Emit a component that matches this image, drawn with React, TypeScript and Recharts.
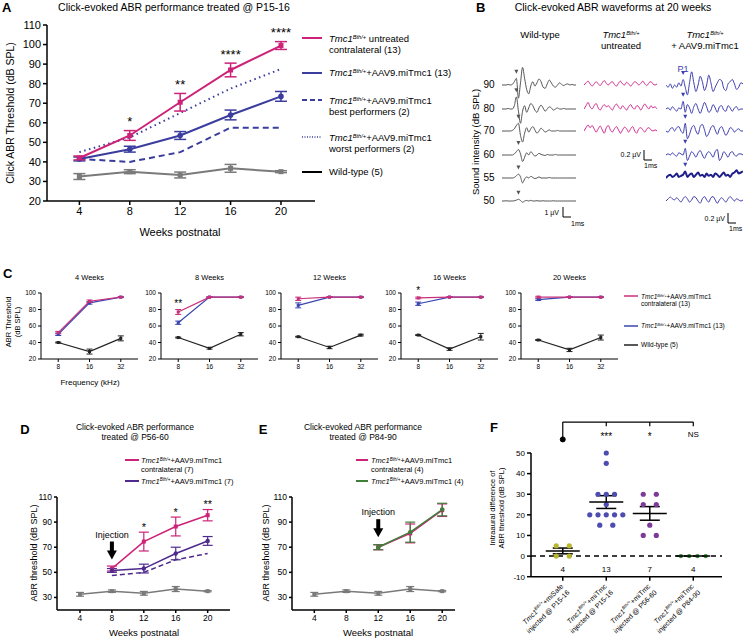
import React from 'react';
import { LineChart, Line, XAxis, YAxis, ErrorBar, ReferenceDot, ReferenceLine, ScatterChart, Scatter } from 'recharts';

const FONT = '"Liberation Sans", Arial, Helvetica, sans-serif';
const MAG = '#cc2277';
const BLUE = '#3b3d9e';
const GRAY = '#7a7a7a';
const PURPLE = '#4e2a8c';
const GREEN = '#3f7f3a';

// ---------- Panel A ----------
const weeksA = [4, 8, 12, 16, 20];
const yTicksA = [20, 30, 40, 50, 60, 70, 80, 90, 100, 110];
const untreatedA = [42, 53.5, 70.5, 87, 99.5];
const untreatedErrA = [1, 2.5, 4.5, 3.5, 2];
const treatedA = [41.5, 46.5, 53.5, 64, 73.5];
const treatedErrA = [1, 1.5, 2, 2.5, 2.5];
const bestA = [41.5, 40, 45, 57.5, 57.5];
const worstA = [45, 52.5, 65, 77.5, 87.5];
const wildTypeA = [32.5, 35, 33.3, 36.7, 35];
const wildTypeErrA = [1.5, 1, 1.5, 2, 0.5];
const starsA = ['', '*', '**', '****', '****'];

// ---------- Panel B ----------
const levelsB = ['90', '80', '70', '60', '55', '50'];
const wt90 = [0, 0, 0, 0.05, 0, 0.05, 0.3, 0.6, -1.2, 0.2, 1.6, 0.6, -0.4, -0.8, -0.1, 0.3, -0.1, 0.2, 0.55, 0.3, -0.2, -0.3, 0.1, 0.45, 0.2, -0.1, -0.2, 0, 0.2, 0.05, -0.05, 0.05, 0.1, 0, 0.05, 0, 0];
const wt80 = [0, 0, 0, 0.05, 0, 0, 0.3, 1.1, -0.2, -1.3, -0.2, 0.3, -0.3, 0.1, 0.5, 0.3, -0.1, -0.3, 0.1, 0.35, 0.1, -0.2, 0, 0.2, 0.1, -0.1, 0, 0.1, 0, 0, 0.05, 0, 0, 0, 0, 0, 0];
const wt70 = [0, 0, 0, 0, 0, 0.05, 0.2, 0.5, 0.7, -0.4, -1.0, -0.2, 0.3, -0.1, 0.2, 0.4, 0.1, -0.2, 0, 0.25, 0.1, -0.1, 0, 0.1, 0, 0, 0, 0.05, 0, 0, 0, 0, 0, 0, 0, 0, 0];
const wt60 = [0, 0, 0, 0, 0, 0, 0.1, 0.3, 0.5, 0.1, -0.6, -0.2, 0.2, 0, 0.3, 0.1, -0.1, 0, 0.15, 0.05, 0, -0.05, 0.05, 0, 0, 0, 0.05, 0, 0, 0, 0, 0, 0, 0, 0, 0, 0];
const wt55 = [0, 0, 0, 0, 0, 0, 0.05, 0.2, 0.35, 0.1, -0.45, -0.1, 0.1, 0, 0.15, 0.05, -0.05, 0, 0.1, 0, 0, 0, 0, 0.05, 0, 0, 0, 0, 0, 0, 0, 0, 0, 0, 0, 0, 0];
const wt50 = [0, 0, 0.02, 0, 0, 0, 0.02, 0.08, 0.15, 0.05, -0.12, 0, 0.05, 0, 0.06, 0, 0, 0.03, 0, 0, 0.02, 0, 0, 0, 0, 0.02, 0, 0, 0, 0, 0, 0, 0, 0, 0, 0, 0];
const wtPeaks = [7, 7, 8, 8, 8, 8];
const un90 = [0, 0.2, 0.35, 0.1, -0.1, 0.1, 0.3, 0.1, -0.05, 0.2, 0.4, 0.15, 0, 0.2, 0.3, 0.05, -0.1, 0.15, 0.35, 0.1, 0, 0.25, 0.1, -0.1, 0.1, 0.3, 0.2, 0, 0.15, 0.35, 0.1, -0.05, 0.2, 0.3, 0.1, 0, 0.1];
const un80 = [0, 0.3, 0.6, 0.2, 0, 0.3, 0.5, 0.1, -0.1, 0.2, 0.4, 0.2, 0.3, 0.1, -0.1, 0.25, 0.45, 0.2, 0, 0.3, 0.1, -0.1, 0.2, 0.4, 0.1, 0, 0.3, 0.2, -0.1, 0.2, 0.45, 0.2, 0, 0.3, 0.1, 0.2, 0];
const un70 = [0, 0.3, 0.55, 0.3, 0.5, 0.2, -0.1, 0.2, 0.45, 0.1, -0.2, 0.3, 0.5, 0.1, -0.1, 0.2, 0.4, 0.1, -0.2, 0.1, 0.35, 0.2, -0.1, 0.2, 0.4, 0, -0.2, 0.2, 0.3, 0.1, -0.1, 0.2, 0.3, 0.1, 0, 0.1, 0];
const tr90 = [0, -0.2, 0.1, -0.3, 0, -0.2, 0.2, -0.1, 0.5, -0.2, -0.9, 0.2, 1.2, 0.2, -0.6, 0, 0.8, 0.3, -0.5, 0, 0.9, 0.2, -0.6, -0.2, 0.2, 0.5, 0.4, -0.3, -0.5, 0.1, 0.3, 0.5, 0.1, -0.4, -0.2, 0.2, 0.1];
const tr80 = [0, 0.1, -0.1, 0.2, 0, -0.2, 0.1, 0, 0.7, -0.3, 0.4, 0.1, -0.4, 0.2, 0.5, 0, -0.4, 0.1, 0.6, 0.2, -0.3, -0.1, 0.4, 0.1, -0.3, 0.2, 0.3, -0.1, -0.2, 0.3, 0.1, -0.2, 0.1, 0.2, -0.1, 0, 0];
const tr70 = [0, -0.1, 0.2, 0.3, 0, 0.3, 0.4, 0, -0.2, 0.7, -0.7, -0.3, 0.3, 0.5, 0, -0.3, 0.4, 0.6, 0.1, -0.5, -0.2, 0.3, 0.5, 0.1, -0.3, 0.2, 0.4, 0, -0.4, -0.1, 0.3, 0.2, -0.1, 0.1, 0.2, 0, 0];
const tr60 = [0, 0.1, 0, 0.2, 0, -0.1, 0.2, 0.1, 0, 0.6, -0.5, -0.1, 0.3, 0.1, -0.2, 0.2, 0.4, 0, -0.3, 0.1, 0.3, 0.1, -0.2, 0.3, 0.5, -0.5, -0.2, 0.3, 0.1, -0.2, 0.2, 0.3, 0, -0.1, 0.1, 0.1, 0];
const tr55 = [0, 0.2, 0.3, 0.1, 0.2, 0.4, 0.1, 0.2, 0.3, 0.6, 0.1, 0.3, 0.4, 0.1, 0.3, 0.5, 0.2, 0.3, 0.1, 0.4, 0.2, 0.3, 0.1, 0.4, 0.3, 0.1, 0.3, 0.5, 0.2, 0.3, 0.1, 0.4, 0.5, 0.7, 0.4, 0.5, 0.6];
const tr50 = [0, 0.2, 0.35, 0.2, 0.1, 0.3, 0.1, -0.1, 0.2, 0.4, 0.2, -0.1, 0.1, 0.4, 0.3, 0, -0.2, 0.2, 0.4, 0.1, -0.1, 0.3, 0.4, 0.1, -0.2, 0.1, 0.3, 0.1, -0.1, 0.2, 0.4, 0.2, 0, 0.2, 0.1, 0, 0.1];
const trPeaks = [8, 8, 9, 9, 9, -1];

// ---------- Panel C ----------
const freqC = ['8', '16', '32'];
const weekTitlesC = ['4 Weeks', '8 Weeks', '12 Weeks', '16 Weeks', '20 Weeks'];
const contraC = [[52, 90, 95], [77, 95, 95], [93, 95, 95], [94, 95, 95], [95, 95, 95]];
const contraErrC = [[1.5, 1.5, 0.5], [3, 0.5, 0.5], [2, 0.5, 0.5], [1, 0.5, 0.5], [1, 0.5, 0.5]];
const treatedC = [[50, 88, 95], [64, 95, 95], [85, 95, 95], [87, 95, 95], [92, 95, 95]];
const treatedErrC = [[1.5, 1.5, 0.5], [2, 0.5, 0.5], [3, 0.5, 0.5], [2, 0.5, 0.5], [1, 0.5, 0.5]];
const wildC = [[40, 29, 45], [46, 33, 50], [47, 34, 49], [49, 32, 47], [43, 31, 46]];
const wildErrC = [[0.5, 3, 3], [0.5, 1, 2], [0.5, 1.5, 1], [0.5, 1.5, 4], [0.5, 2, 3]];
const starsC = ['', '**', '', '*', ''];

// ---------- Panel D ----------
const weeksD = [4, 8, 12, 16, 20];
const contraD = [null, 53, 74.5, 86.5, 95.5];
const contraErrD = [0, 2, 7.5, 7.5, 4.5];
const treatedD = [null, 51.5, 53, 65, 75];
const treatedErrD = [0, 1.5, 3.5, 5, 3.5];
const dashedD = [null, 47.5, 50, 60, 65];
const starsD = ['', '', '*', '*', '**'];

// ---------- Panel E ----------
const contraE = [null, null, 70, 81, 99.5];
const contraErrE = [0, 0, 2, 7.5, 5];
const treatedE = [null, null, 70, 82, 100];
const treatedErrE = [0, 0, 2, 8, 5];

// ---------- Panel F ----------
const groupNamesF = ['+miSafe', '+miTmc', '+miTmc', '+miTmc'];
const groupInjF = ['injected @ P15-16', 'injected @ P15-16', 'injected @ P56-60', 'injected @ P84-90'];
const countsF = [4, 13, 7, 4];
const meansF = [2.5, 26.2, 20.7, 0];
const semsF = [1.4, 3.1, 3.3, 0];
const diffMiSafe = [5, 5, 0, 0];
const diffP15 = [50, 45, 30, 30, 30, 25, 20, 20, 20, 20, 20, 15, 15];
const diffP56 = [30, 30, 25, 25, 15, 10, 10];
const diffP84 = [0, 0, 0, 0];
const sigF = ['***', '*', 'NS'];
const colorsF = ['#b8b830', '#4d4db0', '#7d3b98', '#3b8a3b'];

// ---------- helpers ----------
const ax = { stroke: '#000', strokeWidth: 1.5 };

const T = ({ x, y, children, size = 10, anchor = 'middle', bold = false, rotate = 0, color = '#000', lh = 1.2, align = 'center' }: any) => {
  const tx = anchor === 'middle' ? '-50%' : anchor === 'end' ? '-100%' : '0%';
  return (
    <div style={{ position: 'absolute', left: x, top: y, transform: `translate(${tx}, -50%) rotate(${rotate}deg)`, fontSize: size, fontWeight: bold ? 700 : 400, color, whiteSpace: 'nowrap', lineHeight: lh, textAlign: align as any }}>
      {children}
    </div>
  );
};

const Tmc = () => (
  <>
    <i>Tmc1</i>
    <span style={{ fontSize: '0.6em', fontStyle: 'italic', verticalAlign: '0.5em', lineHeight: 0 }}>Bth/+</span>
  </>
);

const LegLine = ({ x, y, w, color, dash, width = 1.5 }: any) => (
  <svg style={{ position: 'absolute', left: x, top: y - 3 }} width={w} height={6}>
    <line x1={0} x2={w} y1={3} y2={3} stroke={color} strokeWidth={width} strokeDasharray={dash} />
  </svg>
);

const sq = (color: string, s = 5) => (p: any) =>
  p.cx == null || p.cy == null ? <g key={p.index} /> : <rect key={p.index} x={p.cx - s / 2} y={p.cy - s / 2} width={s} height={s} fill={color} />;
const ci = (color: string, r = 2.6) => (p: any) =>
  p.cx == null || p.cy == null ? <g key={p.index} /> : <circle key={p.index} cx={p.cx} cy={p.cy} r={r} fill={color} />;
const txt = (s: string, size: number, dy = 0) => (p: any) => (
  <text x={p.cx} y={p.cy + dy} textAnchor="middle" dominantBaseline="central" fontSize={size} fill="#000">{s}</text>
);
const tri = (color: string) => (p: any) => (
  <polygon points={`${p.cx - 2},${p.cy - 2.5} ${p.cx + 2},${p.cy - 2.5} ${p.cx},${p.cy + 1.5}`} fill={color} />
);
const arrowShape = (p: any) => (
  <g>
    <text x={p.cx} y={p.cy - 25} textAnchor="middle" dominantBaseline="central" fontSize={9} fill="#000">Injection</text>
    <rect x={p.cx - 2} y={p.cy - 18} width={4} height={10} fill="#000" />
    <polygon points={`${p.cx - 5},${p.cy - 9} ${p.cx + 5},${p.cy - 9} ${p.cx},${p.cy}`} fill="#000" />
  </g>
);

// ---------- Panel A chart ----------
const dataA = weeksA.map((w, i) => ({
  w, u: untreatedA[i], ue: untreatedErrA[i], t: treatedA[i], te: treatedErrA[i],
  b: bestA[i], wo: worstA[i], wt: wildTypeA[i], wte: wildTypeErrA[i],
}));

const PanelA = () => (
  <div style={{ position: 'absolute', left: 0, top: 0 }}>
    <LineChart width={325} height={236} data={dataA} margin={{ top: 25, right: 10, bottom: 0, left: 0 }}>
      <XAxis type="number" dataKey="w" domain={[1.43, 22.7]} ticks={weeksA} allowDataOverflow tick={{ fill: '#000', fontSize: 11 }} tickSize={4} axisLine={ax} tickLine={ax} height={35} />
      <YAxis type="number" domain={[20, 110]} ticks={yTicksA} allowDataOverflow tick={{ fill: '#000', fontSize: 11 }} tickSize={4} axisLine={ax} tickLine={ax} width={47} />
      <Line dataKey="wt" stroke={GRAY} strokeWidth={2} dot={sq(GRAY, 5)} isAnimationActive={false}>
        <ErrorBar dataKey="wte" width={6} stroke={GRAY} strokeWidth={1.5} />
      </Line>
      <Line dataKey="b" stroke={BLUE} strokeWidth={2} strokeDasharray="6 4" dot={false} isAnimationActive={false} />
      <Line dataKey="wo" stroke={BLUE} strokeWidth={2} strokeDasharray="1.5 3.5" dot={false} isAnimationActive={false} />
      <Line dataKey="t" stroke={BLUE} strokeWidth={2} dot={ci(BLUE, 2.8)} isAnimationActive={false}>
        <ErrorBar dataKey="te" width={6} stroke={BLUE} strokeWidth={1.5} />
      </Line>
      <Line dataKey="u" stroke={MAG} strokeWidth={2} dot={sq(MAG, 5)} isAnimationActive={false}>
        <ErrorBar dataKey="ue" width={6} stroke={MAG} strokeWidth={1.5} />
      </Line>
      {weeksA.map((w, i) => starsA[i] ? (
        <ReferenceDot key={'s' + i} x={w} y={untreatedA[i] + untreatedErrA[i] + 6} r={0} ifOverflow="visible" shape={txt(starsA[i], 13, 3)} />
      ) : null)}
    </LineChart>
  </div>
);

// ---------- Panel B wave ----------
const Wave = ({ data, left, top, width, color, sw = 1, peak = -1, markColor }: any) => {
  const rows = data.map((v: number, i: number) => ({ i, v }));
  return (
    <div style={{ position: 'absolute', left, top }}>
      <LineChart width={width} height={44} data={rows} margin={{ top: 0, right: 0, bottom: 0, left: 0 }}>
        <XAxis type="number" dataKey="i" domain={[0, data.length - 1]} hide />
        <YAxis type="number" domain={[-2, 2]} hide />
        <Line type="monotone" dataKey="v" stroke={color} strokeWidth={sw} dot={false} isAnimationActive={false} />
        {peak >= 0 ? <ReferenceDot x={peak} y={data[peak] + 0.55} r={0} ifOverflow="visible" shape={tri(markColor || color)} /> : null}
      </LineChart>
    </div>
  );
};

const rowYB = [85, 109, 131, 155, 178, 200.7];
const wtWaves = [wt90, wt80, wt70, wt60, wt55, wt50];
const unWaves = [un90, un80, un70];
const trWaves = [tr90, tr80, tr70, tr60, tr55, tr50];

const PanelB = () => (
  <>
    <T x={476} y={8} size={13} bold anchor="start">B</T>
    <T x={613} y={7} size={10.5}>Click-evoked ABR waveforms at 20 weeks</T>
    <T x={540} y={35} size={9.5}>Wild-type</T>
    <T x={621} y={40} size={9.5}><Tmc /><br />untreated</T>
    <T x={705} y={40} size={9.5}><Tmc /><br />+ AAV9.miTmc1</T>
    <T x={476} y={142} size={9.5} rotate={-90}>Sound intensity (dB SPL)</T>
    {levelsB.map((l, i) => <T key={l} x={489} y={rowYB[i]} size={10}>{l}</T>)}
    {wtWaves.map((d, i) => <Wave key={'w' + i} data={d} left={502} top={rowYB[i] - 22} width={74} color="#555" peak={wtPeaks[i]} />)}
    {unWaves.map((d, i) => <Wave key={'u' + i} data={d} left={584} top={rowYB[i] - 22} width={73} color="#d42a8f" />)}
    {trWaves.map((d, i) => <Wave key={'t' + i} data={d} left={666} top={rowYB[i] - 22} width={77} color={i === 4 ? '#1e1e8a' : '#3c3cb0'} sw={i === 4 ? 2 : 1} peak={trPeaks[i]} markColor="#3c3cb0" />)}
    <T x={683} y={69} size={9} color="#3c3cb0">P1</T>
    <svg style={{ position: 'absolute', left: 560, top: 206 }} width={14} height={14}>
      <polyline points="3,1 3,11 11,11" fill="none" stroke="#000" strokeWidth={1} />
    </svg>
    <T x={559} y={213} size={7} anchor="end">1 µV</T>
    <T x={571} y={224} size={7} anchor="start">1ms</T>
    <svg style={{ position: 'absolute', left: 641, top: 149 }} width={14} height={14}>
      <polyline points="3,1 3,11 11,11" fill="none" stroke="#000" strokeWidth={1} />
    </svg>
    <T x={641} y={155} size={7} anchor="end">0.2 µV</T>
    <T x={644} y={166} size={7} anchor="start">1ms</T>
    <svg style={{ position: 'absolute', left: 725, top: 212 }} width={14} height={14}>
      <polyline points="3,1 3,11 11,11" fill="none" stroke="#000" strokeWidth={1} />
    </svg>
    <T x={725} y={219} size={7} anchor="end">0.2 µV</T>
    <T x={729} y={229} size={7} anchor="start">1ms</T>
  </>
);

// ---------- Panel C ----------
const ChartC = ({ k }: any) => {
  const rows = freqC.map((f, i) => ({
    i, m: contraC[k][i], me: contraErrC[k][i], b: treatedC[k][i], be: treatedErrC[k][i], w: wildC[k][i], we: wildErrC[k][i],
  }));
  const x0 = 41 + 120 * k;
  const tk = { fill: '#000', fontSize: 6.5 };
  return (
    <div style={{ position: 'absolute', left: x0 - 25, top: 284.5 }}>
      <LineChart width={126} height={90} data={rows} margin={{ top: 8, right: 4, bottom: 0, left: 0 }}>
        <XAxis type="number" dataKey="i" domain={[-0.55, 2.55]} ticks={[0, 1, 2]} tickFormatter={(v: number) => freqC[v]} allowDataOverflow tick={tk} tickSize={3} axisLine={{ stroke: '#000', strokeWidth: 1 }} tickLine={{ stroke: '#000', strokeWidth: 1 }} height={16} />
        <YAxis type="number" domain={[20, 100]} ticks={[20, 40, 60, 80, 100]} tick={tk} tickSize={3} axisLine={{ stroke: '#000', strokeWidth: 1 }} tickLine={{ stroke: '#000', strokeWidth: 1 }} width={25} />
        <Line dataKey="w" stroke="#222" strokeWidth={1.2} dot={sq('#222', 3)} isAnimationActive={false}>
          <ErrorBar dataKey="we" width={3} stroke="#222" strokeWidth={1} />
        </Line>
        <Line dataKey="b" stroke="#3a45b0" strokeWidth={1.2} dot={sq('#3a45b0', 3)} isAnimationActive={false}>
          <ErrorBar dataKey="be" width={3} stroke="#3a45b0" strokeWidth={1} />
        </Line>
        <Line dataKey="m" stroke="#c8307a" strokeWidth={1.2} dot={sq('#c8307a', 3)} isAnimationActive={false}>
          <ErrorBar dataKey="me" width={3} stroke="#c8307a" strokeWidth={1} />
        </Line>
        {starsC[k] ? <ReferenceDot x={0} y={contraC[k][0] + contraErrC[k][0] + 10} r={0} ifOverflow="visible" shape={txt(starsC[k], 10, 2)} /> : null}
      </LineChart>
    </div>
  );
};

const PanelC = () => (
  <>
    <T x={3} y={274} size={13} bold anchor="start">C</T>
    {weekTitlesC.map((t, k) => <T key={t} x={89.5 + 120 * k} y={277} size={7.5}>{t}</T>)}
    {weekTitlesC.map((t, k) => <ChartC key={'c' + k} k={k} />)}
    <T x={13} y={322} size={7.5} rotate={-90}>ABR Threshold<br />(dB SPL)</T>
    <T x={90} y={383} size={8}>Frequency (kHz)</T>
    <LegLine x={624} y={296} w={14} color="#c8307a" width={1.5} />
    <T x={641} y={300.5} size={6.5} anchor="start" align="left"><Tmc />+AAV9.miTmc1<br />contralateral (13)</T>
    <LegLine x={624} y={326} w={14} color="#3a45b0" width={1.5} />
    <T x={641} y={326} size={6.5} anchor="start"><Tmc />+AAV9.miTmc1 (13)</T>
    <LegLine x={624} y={345} w={14} color="#222" width={1.5} />
    <T x={641} y={345} size={6.5} anchor="start">Wild-type (5)</T>
  </>
);

// ---------- Panel A legend / labels ----------
const PanelALabels = () => (
  <>
    <T x={2} y={8} size={13} bold anchor="start">A</T>
    <T x={174} y={7} size={10.5}>Click-evoked ABR performance treated @ P15-16</T>
    <T x={10} y={113} size={10.5} rotate={-90}>Click ABR Threshold (dB SPL)</T>
    <T x={180} y={233} size={11}>Weeks postnatal</T>
    <LegLine x={302} y={38} w={20} color={MAG} width={2} />
    <T x={329} y={43.5} size={9.5} anchor="start" align="left"><Tmc /> untreated<br />contralateral (13)</T>
    <LegLine x={302} y={73} w={20} color={BLUE} width={2} />
    <T x={329} y={73} size={9.5} anchor="start"><Tmc />+AAV9.miTmc1 (13)</T>
    <LegLine x={302} y={100} w={20} color={BLUE} width={2} dash="5 3" />
    <T x={329} y={106} size={9.5} anchor="start" align="left"><Tmc />+AAV9.miTmc1<br />best performers (2)</T>
    <LegLine x={302} y={137} w={20} color={BLUE} width={1.5} dash="1 1.5" />
    <T x={329} y={143} size={9.5} anchor="start" align="left"><Tmc />+AAV9.miTmc1<br />worst performers (2)</T>
    <LegLine x={302} y={172} w={20} color="#000" width={2} />
    <T x={329} y={172} size={9.5} anchor="start">Wild-type (5)</T>
  </>
);

// ---------- Panel D / E ----------
const yTicksDE = [20, 30, 40, 50, 60, 70, 80, 90, 100, 110];
const ChartDE = ({ left, x0, x1, domain, rows, secondColor, dashed, stars, injX, injY }: any) => (
  <div style={{ position: 'absolute', left, top: 482 }}>
    <LineChart width={x1 - left + 6} height={148} data={rows} margin={{ top: 15, right: 6, bottom: 0, left: 0 }}>
      <XAxis type="number" dataKey="w" domain={domain} ticks={weeksD} allowDataOverflow tick={{ fill: '#000', fontSize: 8.5 }} tickSize={3} axisLine={ax} tickLine={ax} height={20} />
      <YAxis type="number" domain={[20, 110]} ticks={yTicksDE} tick={{ fill: '#000', fontSize: 8.5 }} tickSize={3} axisLine={ax} tickLine={ax} width={x0 - left} />
      <Line dataKey="wt" stroke={GRAY} strokeWidth={1.5} dot={sq(GRAY, 4)} isAnimationActive={false}>
        <ErrorBar dataKey="wte" width={4} stroke={GRAY} strokeWidth={1.2} />
      </Line>
      {dashed ? <Line dataKey="d" stroke={secondColor} strokeWidth={1.5} strokeDasharray="5 3" dot={false} isAnimationActive={false} /> : null}
      <Line dataKey="m" stroke={MAG} strokeWidth={1.5} dot={sq(MAG, 4)} isAnimationActive={false}>
        <ErrorBar dataKey="me" width={5} stroke={MAG} strokeWidth={1.2} />
      </Line>
      <Line dataKey="t" stroke={secondColor} strokeWidth={1.5} dot={ci(secondColor, 2.2)} isAnimationActive={false}>
        <ErrorBar dataKey="te" width={5} stroke={secondColor} strokeWidth={1.2} />
      </Line>
      {stars ? weeksD.map((w, i) => stars[i] ? (
        <ReferenceDot key={'s' + i} x={w} y={rows[i].m + rows[i].me + 6} r={0} ifOverflow="visible" shape={txt(stars[i], 11, 2)} />
      ) : null) : null}
      <ReferenceDot x={injX} y={injY} r={0} ifOverflow="visible" shape={arrowShape} />
    </LineChart>
  </div>
);

const rowsD = weeksD.map((w, i) => ({ w, m: contraD[i], me: contraErrD[i], t: treatedD[i], te: treatedErrD[i], d: dashedD[i], wt: wildTypeA[i], wte: wildTypeErrA[i] }));
const rowsE = weeksD.map((w, i) => ({ w, m: contraE[i], me: contraErrE[i], t: treatedE[i], te: treatedErrE[i], wt: wildTypeA[i], wte: wildTypeErrA[i] }));

const PanelD = () => (
  <>
    <T x={25} y={430} size={13} bold>D</T>
    <T x={135} y={432} size={8.5}>Click-evoked ABR performance<br />treated @ P56-60</T>
    <LegLine x={125} y={460} w={14} color={MAG} width={2} />
    <T x={141} y={464.5} size={7.5} anchor="start" align="left"><Tmc />+AAV9.miTmc1<br />contralateral (7)</T>
    <LegLine x={125} y={481} w={14} color={PURPLE} width={2} />
    <T x={141} y={481} size={7.5} anchor="start"><Tmc />+AAV9.miTmc1 (7)</T>
    <ChartDE left={32} x0={57} x1={230} domain={[1.12, 22.8]} rows={rowsD} secondColor={PURPLE} dashed stars={starsD} injX={8} injY={60.2} />
    <T x={34} y={553} size={9} rotate={-90}>ABR threshold (dB SPL)</T>
    <T x={144} y={633} size={9.5}>Weeks postnatal</T>
  </>
);

const PanelE = () => (
  <>
    <T x={263} y={430} size={13} bold>E</T>
    <T x={363} y={432} size={8.5}>Click-evoked ABR performance<br />treated @ P84-90</T>
    <LegLine x={356} y={460} w={12} color={MAG} width={2} />
    <T x={371} y={464.5} size={7.5} anchor="start" align="left"><Tmc />+AAV9.miTmc1<br />contralateral (4)</T>
    <LegLine x={356} y={481} w={12} color={GREEN} width={2} />
    <T x={371} y={481} size={7.5} anchor="start"><Tmc />+AAV9.miTmc1 (4)</T>
    <ChartDE left={267} x0={292} x1={455} domain={[1.21, 21.6]} rows={rowsE} secondColor={GREEN} injX={12} injY={78} />
    <T x={266} y={553} size={9} rotate={-90}>ABR threshold (dB SPL)</T>
    <T x={378} y={633} size={9.5}>Weeks postnatal</T>
  </>
);

// ---------- Panel F ----------
const jitter = (vals: number[], g: number) => {
  const out: any[] = [];
  const seen: Record<string, number> = {};
  const counts: Record<string, number> = {};
  vals.forEach((v) => { counts[v] = (counts[v] || 0) + 1; });
  vals.forEach((v) => {
    const n = counts[v];
    const k = seen[v] || 0;
    seen[v] = k + 1;
    const sp = n === 2 ? 0.3 : 0.19;
    out.push({ x: g + (k - (n - 1) / 2) * sp, y: v });
  });
  return out;
};
const groupsF = [diffMiSafe, diffP15, diffP56, diffP84];
const meanRowsF = meansF.map((m, i) => ({ x: i, y: m, e: semsF[i] }));

const FTick = (p: any) => {
  const i = p.payload.value;
  return (
    <g transform={`translate(${p.x + 1},${p.y + 4}) rotate(-45)`}>
      <text textAnchor="end" fontSize={7} fill="#000" x={0} y={0}>
        <tspan fontStyle="italic">Tmc1</tspan>
        <tspan fontSize={4.5} fontStyle="italic" dy={-3}>Bth/+</tspan>
        <tspan dy={3}>{groupNamesF[i]}</tspan>
      </text>
      <text textAnchor="end" fontSize={7} fill="#000" x={0} y={9}>{groupInjF[i]}</text>
    </g>
  );
};

const meanShape = (p: any) => (
  <line x1={p.cx - 17} x2={p.cx + 17} y1={p.cy} y2={p.cy} stroke="#000" strokeWidth={1.5} />
);

const PanelF = () => (
  <>
    <T x={494} y={428} size={13} bold>F</T>
    <T x={497} y={508} size={7.5} rotate={-90}>Intraaural difference of<br />ABR threshold (dB SPL)</T>
    <div style={{ position: 'absolute', left: 503, top: 412.7 }}>
      <ScatterChart width={229} height={228} margin={{ top: 40, right: 10, bottom: 0, left: 0 }}>
        <XAxis type="number" dataKey="x" domain={[-0.73, 3.66]} ticks={[0, 1, 2, 3]} tick={<FTick />} tickSize={4} axisLine={ax} tickLine={ax} height={64.3} interval={0} />
        <YAxis type="number" dataKey="y" domain={[-10, 50]} ticks={[-10, 0, 10, 20, 30, 40, 50]} tick={{ fill: '#000', fontSize: 8 }} tickSize={4} axisLine={ax} tickLine={ax} width={28} />
        <ReferenceLine y={0} stroke="#000" strokeWidth={1.5} strokeDasharray="5 4" />
        {groupsF.map((vals, g) => (
          <Scatter key={'g' + g} data={jitter(vals, g)} fill={colorsF[g]} shape={(p: any) => <circle cx={p.cx} cy={p.cy} r={g === 3 ? 2.2 : 2.6} fill={colorsF[g]} />} isAnimationActive={false} />
        ))}
        <Scatter data={meanRowsF} shape={meanShape} isAnimationActive={false}>
          <ErrorBar dataKey="e" direction="y" width={10} stroke="#000" strokeWidth={1.5} />
        </Scatter>
        <ReferenceLine segment={[{ x: 0, y: 65 }, { x: 3, y: 65 }]} stroke="#000" strokeWidth={1.2} ifOverflow="visible" />
        <ReferenceLine segment={[{ x: 0, y: 65 }, { x: 0, y: 56.6 }]} stroke="#000" strokeWidth={1.2} ifOverflow="visible" />
        {[1, 2, 3].map((g) => (
          <ReferenceLine key={'t' + g} segment={[{ x: g, y: 65 }, { x: g, y: 63 }]} stroke="#000" strokeWidth={1.2} ifOverflow="visible" />
        ))}
        <ReferenceDot x={0} y={56.6} r={2.5} fill="#000" stroke="#000" ifOverflow="visible" />
        {sigF.map((s, i) => (
          <ReferenceDot key={'sg' + i} x={i + 1} y={59} r={0} ifOverflow="visible" shape={txt(s, s === 'NS' ? 8 : 10, s === 'NS' ? 0 : 2)} />
        ))}
        {countsF.map((c, i) => (
          <ReferenceDot key={'n' + i} x={i} y={-6.3} r={0} ifOverflow="visible" shape={txt(String(c), 8)} />
        ))}
      </ScatterChart>
    </div>
  </>
);

export default function App() {
  return (
    <div style={{ position: 'fixed', left: 0, top: 0, width: 743, height: 641, background: '#fff', overflow: 'hidden', fontFamily: FONT }}>
      <PanelA />
      <PanelALabels />
      <PanelB />
      <PanelC />
      <PanelD />
      <PanelE />
      <PanelF />
    </div>
  );
}
